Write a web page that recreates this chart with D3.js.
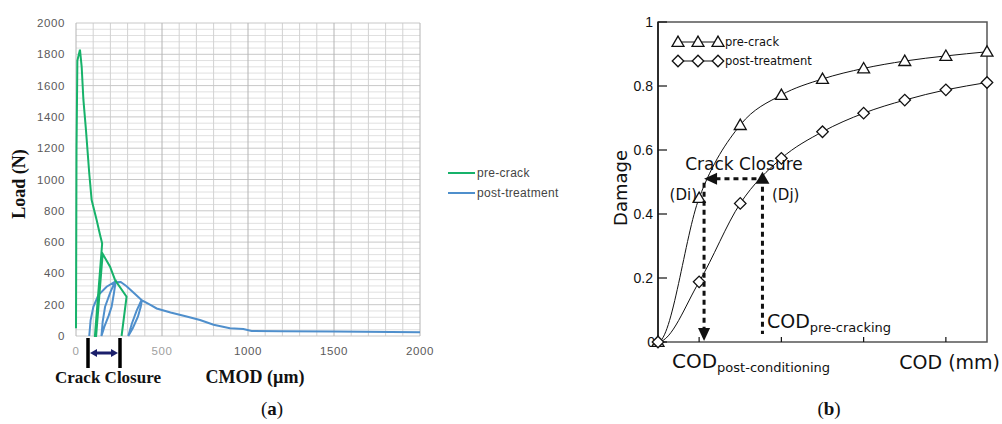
<!DOCTYPE html>
<html>
<head>
<meta charset="utf-8">
<title>Crack closure: load-CMOD and damage-COD</title>
<script src="https://d3js.org/d3.v7.min.js"></script>
<style>
  body { margin: 0; background: #fff; }
  svg { display: block; }
  .grid-minor { stroke: #e0e0e0; stroke-width: 1; }
  .grid-major { stroke: #b4b4b4; stroke-width: 1; }
  .tickA { font-family: "Liberation Sans", Arial, sans-serif; font-size: 11.5px; fill: #5a5a5a; letter-spacing: 0.6px; }
  .serifBold { font-family: "Liberation Serif", "Times New Roman", serif; font-weight: bold; font-size: 17px; fill: #111; }
  .hand { font-family: "DejaVu Sans", sans-serif; fill: #111; }
  .tickB { font-family: "Liberation Sans", Arial, sans-serif; font-size: 14px; fill: #111; }
</style>
</head>
<body>
<div id="chart"></div>
<script>
// ---- panel (a): load vs CMOD ----
const preCrackCmod = [0, 3, 8, 23, 33, 43, 58, 77, 91, 120, 140, 150, 152, 110, 117, 155, 198, 227, 294, 265];
const preCrackLoad = [50, 1200, 1760, 1830, 1720, 1510, 1316, 1040, 869, 741, 645, 600, 590, 0, 0, 525, 443, 358, 251, 0];

const postTreatCmod = [77, 85, 101, 130, 178, 227, 200, 169, 155, 148, 165, 190, 207, 220, 230,
  260, 294, 340, 381, 352, 325, 304, 330, 360, 376, 383,
  430, 469, 550, 643, 721, 800, 895, 973, 1021, 1200, 1500, 2000];
const postTreatLoad = [0, 102, 187, 262, 315, 347, 280, 187, 90, 0, 60, 130, 187, 270, 343,
  345, 318, 272, 230, 160, 80, 0, 50, 123, 185, 228,
  200, 176, 150, 124, 102, 72, 49, 45, 32, 30, 28, 24];

const xTicksA = [0, 500, 1000, 1500, 2000];
const yTicksA = [0, 200, 400, 600, 800, 1000, 1200, 1400, 1600, 1800, 2000];

// ---- panel (b): damage vs COD ----
const codB = [0, 0.5, 1, 1.5, 2, 2.5, 3, 3.5, 4];
const damagePreCrack = [0, 0.45, 0.678, 0.772, 0.822, 0.855, 0.878, 0.894, 0.907];
const damagePostTreat = [0, 0.188, 0.433, 0.574, 0.657, 0.715, 0.756, 0.788, 0.811];
const yTicksB = [0, 0.2, 0.4, 0.6, 0.8, 1];
const yTickLabelsB = ["0", "0.2", "0.4", "0.6", "0.8", "1"];
const xTicksB = [0.5, 1.5, 2.5, 3.5];
const closureLevel = 0.51;   // damage level of the dashed arrow
const codDi = 0.56, codDj = 1.27;

const W = 1002, H = 424;
const svg = d3.select("#chart").append("svg").attr("width", W).attr("height", H);
svg.append("rect").attr("width", W).attr("height", H).attr("fill", "#fff");

// ================= panel (a) =================
const xA = d3.scaleLinear().domain([0, 2000]).range([76, 420]);
const yA = d3.scaleLinear().domain([0, 2000]).range([336, 23]);
const a = svg.append("g");

// gridlines
a.append("g").selectAll("line").data(d3.range(0, 2001, 40).filter(v => v % 200 !== 0))
  .join("line").attr("class", "grid-minor")
  .attr("x1", xA(0)).attr("x2", xA(2000)).attr("y1", d => yA(d)).attr("y2", d => yA(d));
a.append("g").selectAll("line").data(d3.range(0, 2001, 100).filter(v => v % 500 !== 0))
  .join("line").attr("class", "grid-minor").style("stroke", "#d2d2d2")
  .attr("y1", yA(0)).attr("y2", yA(2000)).attr("x1", d => xA(d)).attr("x2", d => xA(d));
a.append("g").selectAll("line").data(yTicksA)
  .join("line").attr("class", "grid-major").style("stroke", "#c8c8c8")
  .attr("x1", xA(0)).attr("x2", xA(2000)).attr("y1", d => yA(d)).attr("y2", d => yA(d));
a.append("g").selectAll("line").data(xTicksA)
  .join("line").attr("class", "grid-major")
  .attr("y1", yA(0)).attr("y2", yA(2000)).attr("x1", d => xA(d)).attr("x2", d => xA(d));

// tick labels
a.append("g").selectAll("text").data(yTicksA).join("text")
  .attr("class", "tickA").attr("text-anchor", "end")
  .attr("x", 65).attr("y", d => yA(d)).attr("dy", "0.35em").text(d => d);
a.append("g").selectAll("text").data(xTicksA).join("text")
  .attr("class", "tickA").attr("text-anchor", "middle")
  .style("fill", d => d < 1000 ? "#a0a0a0" : null)
  .attr("x", d => xA(d)).attr("y", 351).attr("dy", "0.35em").text(d => d);

// series
const lineA = d3.line().x(d => xA(d[0])).y(d => yA(d[1]));
a.append("path").datum(d3.zip(postTreatCmod, postTreatLoad))
  .attr("d", lineA).attr("fill", "none").attr("stroke", "#4f8fcc").attr("stroke-width", 2);
a.append("path").datum(d3.zip(preCrackCmod, preCrackLoad))
  .attr("d", lineA).attr("fill", "none").attr("stroke", "#17b26a").attr("stroke-width", 2);

// legend
const legA = [["pre-crack", "#17b26a"], ["post-treatment", "#4f8fcc"]];
legA.forEach((l, i) => {
  const y = 173 + i * 20;
  a.append("line").attr("x1", 448).attr("x2", 475).attr("y1", y).attr("y2", y)
    .attr("stroke", l[1]).attr("stroke-width", 2);
  a.append("text").attr("class", "tickA").style("fill", "#444").style("letter-spacing", "0.3px")
    .style("font-size", "12px").attr("x", 477).attr("y", y).attr("dy", "0.35em").text(l[0]);
});

// crack closure bracket
[88, 120].forEach(x => a.append("line").attr("x1", x).attr("x2", x).attr("y1", 338).attr("y2", 368)
  .attr("stroke", "#000").attr("stroke-width", 3.5));
a.append("line").attr("x1", 95).attr("x2", 113).attr("y1", 353).attr("y2", 353)
  .attr("stroke", "#1b1f6b").attr("stroke-width", 3);
a.append("path").attr("d", "M90,353 L97,349 L97,357Z M118,353 L111,349 L111,357Z").attr("fill", "#1b1f6b");

// axis titles
a.append("text").attr("class", "serifBold").style("font-size", "18px")
  .attr("transform", "translate(25,184) rotate(-90)").attr("text-anchor", "middle").text("Load (N)");
a.append("text").attr("class", "serifBold").attr("x", 108).attr("y", 383)
  .attr("text-anchor", "middle").text("Crack Closure");
a.append("text").attr("class", "serifBold").style("font-size", "18px").attr("x", 255).attr("y", 383)
  .attr("text-anchor", "middle").text("CMOD (\u00b5m)");
const capA = a.append("text").attr("class", "serifBold").style("font-weight", "normal").style("font-size", "19px")
  .attr("x", 272).attr("y", 415).attr("text-anchor", "middle");
capA.append("tspan").text("(");
capA.append("tspan").style("font-weight", "bold").text("a");
capA.append("tspan").text(")");

// ================= panel (b) =================
const xB = d3.scaleLinear().domain([0, 4]).range([658, 987]);
const yB = d3.scaleLinear().domain([0, 1]).range([342, 22]);
const b = svg.append("g");

// frame
b.append("rect").attr("x", xB(0)).attr("y", yB(1)).attr("width", xB(4) - xB(0)).attr("height", yB(0) - yB(1))
  .attr("fill", "none").attr("stroke", "#555").attr("stroke-width", 1.5);
b.append("line").attr("x1", xB(0)).attr("x2", xB(0)).attr("y1", yB(0)).attr("y2", yB(1))
  .attr("stroke", "#111").attr("stroke-width", 1.5);

// ticks
b.append("g").selectAll("line").data(yTicksB).join("line")
  .attr("x1", xB(0)).attr("x2", xB(0) + 9).attr("y1", d => yB(d)).attr("y2", d => yB(d))
  .attr("stroke", "#111").attr("stroke-width", 1.2);
b.append("g").selectAll("text").data(yTicksB).join("text").attr("class", "tickB")
  .attr("text-anchor", "end").attr("x", d => d === 0 ? 655 : 653).attr("y", d => yB(d)).attr("dy", "0.35em")
  .text((d, i) => yTickLabelsB[i]);
b.append("g").selectAll("line").data(xTicksB).join("line")
  .attr("x1", d => xB(d)).attr("x2", d => xB(d)).attr("y1", yB(0)).attr("y2", yB(0) - 5)
  .attr("stroke", "#111").attr("stroke-width", 1.2);

// smooth curve: Hermite with flat start
function smoothPath(xs, ys) {
  const px = xs.map(xB), py = ys.map(yB), n = px.length;
  const m = px.map((x, i) => {
    if (i === 0) return 0;
    if (i === n - 1) return (py[i] - py[i - 1]) / (px[i] - px[i - 1]);
    return (py[i + 1] - py[i - 1]) / (px[i + 1] - px[i - 1]);
  });
  const p = d3.path();
  p.moveTo(px[0], py[0]);
  for (let i = 0; i < n - 1; i++) {
    const h = px[i + 1] - px[i];
    p.bezierCurveTo(px[i] + h / 3, py[i] + m[i] * h / 3, px[i + 1] - h / 3, py[i + 1] - m[i + 1] * h / 3, px[i + 1], py[i + 1]);
  }
  return p.toString();
}
b.append("path").attr("d", smoothPath(codB, damagePreCrack)).attr("fill", "none").attr("stroke", "#111").attr("stroke-width", 1);
b.append("path").attr("d", smoothPath(codB, damagePostTreat)).attr("fill", "none").attr("stroke", "#111").attr("stroke-width", 1);

const tri = d3.symbol().type(d3.symbolTriangle).size(62);
const dia = d3.symbol().type(d3.symbolSquare).size(66);
b.append("g").selectAll("path").data(d3.zip(codB, damagePreCrack)).join("path")
  .attr("d", tri).attr("transform", d => `translate(${xB(d[0])},${yB(d[1]) + 1})`)
  .attr("fill", "#fff").attr("stroke", "#111").attr("stroke-width", 1.3);
b.append("g").selectAll("path").data(d3.zip(codB, damagePostTreat)).join("path")
  .attr("d", dia).attr("transform", d => `translate(${xB(d[0])},${yB(d[1])}) rotate(45)`)
  .attr("fill", "#fff").attr("stroke", "#111").attr("stroke-width", 1.3);

// legend
[["pre-crack", tri, 42, 0], ["post-treatment", dia, 61, 45]].forEach(l => {
  b.append("line").attr("x1", 678).attr("x2", 718).attr("y1", l[2]).attr("y2", l[2]).attr("stroke", "#111");
  [678, 698, 718].forEach(x => b.append("path").attr("d", l[1])
    .attr("transform", `translate(${x},${l[2] + (l[3] ? 0 : 1)}) rotate(${l[3]})`)
    .attr("fill", "#fff").attr("stroke", "#111").attr("stroke-width", 1.3));
  b.append("text").attr("class", "hand").attr("font-size", 11.5).attr("x", 725).attr("y", l[2]).attr("dy", "0.35em").text(l[0]);
});

// crack-closure dashed arrows
const yLev = yB(closureLevel), xi = xB(codDi), xj = xB(codDj);
const dash = { "stroke": "#111", "stroke-width": 3, "stroke-dasharray": "5,4", "fill": "none" };
function dashed(x1, y1, x2, y2) {
  const l = b.append("line").attr("x1", x1).attr("y1", y1).attr("x2", x2).attr("y2", y2);
  Object.entries(dash).forEach(([k, v]) => l.attr(k, v));
}
dashed(xj - 6, yLev, xi + 12, yLev);
dashed(xi, yLev + 4, xi, yB(0) - 12);
dashed(xj, yLev + 8, xj, yB(0) - 8);
b.append("path").attr("d", `M${xi},${yLev} L${xi + 13},${yLev - 6} L${xi + 13},${yLev + 6}Z`).attr("fill", "#111");
b.append("path").attr("d", `M${xi},${yB(0) - 1} L${xi - 6},${yB(0) - 14} L${xi + 6},${yB(0) - 14}Z`).attr("fill", "#111");
b.append("path").attr("d", `M${xj},${yLev - 7} L${xj - 7},${yLev + 5} L${xj + 7},${yLev + 5}Z`).attr("fill", "#111");

// annotations
b.append("text").attr("class", "hand").attr("font-size", 17).attr("x", 744).attr("y", 170)
  .attr("text-anchor", "middle").text("Crack Closure");
b.append("text").attr("class", "hand").attr("font-size", 15).attr("x", 697).attr("y", 200)
  .attr("text-anchor", "end").text("(Di)");
b.append("text").attr("class", "hand").attr("font-size", 15).attr("x", 772).attr("y", 200).text("(Dj)");
const t1 = b.append("text").attr("class", "hand").attr("x", 767).attr("y", 328);
t1.append("tspan").attr("font-size", 19).text("COD");
t1.append("tspan").attr("font-size", 13).attr("dy", 4).text("pre-cracking");
const t2 = b.append("text").attr("class", "hand").attr("x", 672).attr("y", 368);
t2.append("tspan").attr("font-size", 20).text("COD");
t2.append("tspan").attr("font-size", 13).attr("dy", 4).text("post-conditioning");
b.append("text").attr("class", "hand").attr("font-size", 19).attr("x", 1000).attr("y", 369)
  .attr("text-anchor", "end").text("COD (mm)");
b.append("text").attr("class", "hand").attr("font-size", 18)
  .attr("transform", "translate(627,188) rotate(-90)").attr("text-anchor", "middle").text("Damage");
const capB = b.append("text").attr("class", "serifBold").style("font-weight", "normal").style("font-size", "19px")
  .attr("x", 829).attr("y", 415).attr("text-anchor", "middle");
capB.append("tspan").text("(");
capB.append("tspan").style("font-weight", "bold").text("b");
capB.append("tspan").text(")");
</script>
</body>
</html>
